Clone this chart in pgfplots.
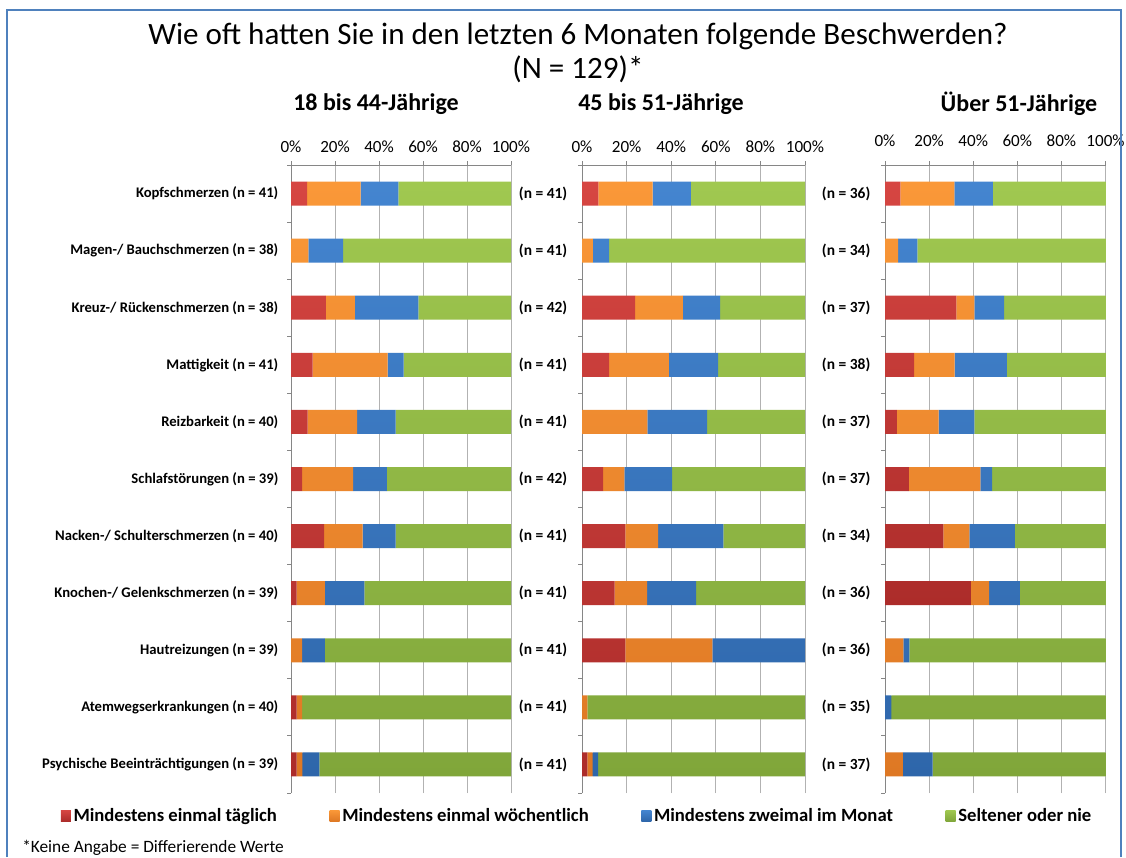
\documentclass[border=0pt]{standalone}
\usepackage{pgfplots}
\pgfplotsset{compat=1.18}
\usepackage{pgfplotstable}
\usepackage{fontspec}
\setmainfont{Carlito}

\definecolor{redTop}{RGB}{214,70,66}
\definecolor{redBot}{RGB}{172,44,42}
\definecolor{orangeTop}{RGB}{250,152,56}
\definecolor{orangeBot}{RGB}{222,120,36}
\definecolor{blueTop}{RGB}{68,133,208}
\definecolor{blueBot}{RGB}{46,102,170}
\definecolor{greenTop}{RGB}{160,200,80}
\definecolor{greenBot}{RGB}{128,166,58}
\definecolor{axgray}{RGB}{134,134,134}
\definecolor{gridgray}{RGB}{178,178,178}
\definecolor{frameblue}{RGB}{79,129,189}

% y: 10 = Kopfschmerzen ... 0 = Psychische Beeintraechtigungen
% a = taeglich, b = woechentlich, c = zweimal im Monat, d = seltener/nie (in %)
\pgfplotstableread{
y a b c d
10 7.3 24.4 17.1 51.2
9 0 7.9 15.8 76.3
8 15.8 13.2 28.9 42.1
7 9.8 34.1 7.3 48.8
6 7.5 22.5 17.5 52.5
5 5.1 23.1 15.4 56.4
4 15.0 17.5 15.0 52.5
3 2.6 12.8 17.9 66.7
2 0 5.1 10.3 84.6
1 2.5 2.5 0 95.0
0 2.6 2.6 7.7 87.1
}\tabA
\pgfplotstableread{
y a b c d
10 7.3 24.4 17.1 51.2
9 0 4.9 7.3 87.8
8 23.8 21.4 16.7 38.1
7 12.2 26.8 22.0 39.0
6 0 29.3 26.8 43.9
5 9.5 9.5 21.4 59.6
4 19.5 14.6 29.3 36.6
3 14.6 14.6 22.0 48.8
2 19.5 39.0 41.5 0
1 0 2.4 0 97.6
0 2.4 2.4 2.4 92.8
}\tabB
\pgfplotstableread{
y a b c d
10 7.0 24.5 17.4 51.1
9 0 5.9 8.8 85.3
8 32.4 8.1 13.5 46.0
7 13.2 18.4 23.7 44.7
6 5.4 18.9 16.2 59.5
5 10.8 32.4 5.4 51.4
4 26.5 11.8 20.6 41.1
3 38.9 8.3 13.9 38.9
2 0 8.3 2.8 88.9
1 0 0 2.9 97.1
0 0 8.1 13.5 78.4
}\tabC

\pgfplotsset{
  panel/.style={
    xbar stacked, bar width=18pt,
    scale only axis, height=471pt,
    anchor=south west,
    xmin=0, xmax=100, ymin=-0.5, ymax=10.5,
    axis x line*=top, axis y line*=left,
    axis line style={draw=axgray, line width=0.75pt},
    xtick={0,20,...,100},
    xticklabel={\pgfmathprintnumber{\tick}\%},
    /pgf/number format/assume math mode=true,
    xmajorgrids, grid style={gridgray, line width=0.75pt},
    ytick={0,...,10},
    minor ytick={-0.5,0.5,...,10.5},
    tick align=outside,
    major tick length=3pt, minor tick length=3pt,
    major y tick style={draw=none},
    minor y tick style={axgray, line width=0.75pt},
    x tick style={axgray, line width=0.75pt},
    xticklabel style={font=\fontsize{12.8}{14}\selectfont, text=black},
    yticklabel style={font=\fontsize{11}{13}\selectfont\bfseries, text=black},
    xticklabel shift=3pt,
    legend image code/.code={\path[##1] (0pt,-4pt) rectangle (7.5pt,4.25pt);},
  },
  sRed/.style={draw=none, top color=redTop, bottom color=redBot},
  sOrange/.style={draw=none, top color=orangeTop, bottom color=orangeBot},
  sBlue/.style={draw=none, top color=blueTop, bottom color=blueBot},
  sGreen/.style={draw=none, top color=greenTop, bottom color=greenBot},
}

\begin{document}
\begin{tikzpicture}
\useasboundingbox (0pt,0pt) rectangle (844.5pt,-642.75pt);
\fill[white] (0pt,0pt) rectangle (844.5pt,-642.75pt);

% panel 1
\begin{axis}[panel, at={(218.25pt,-594.75pt)}, width=165pt,
  yticklabel shift=3pt,
  yticklabels={Psychische Beeinträchtigungen (n = 39),
    Atemwegserkrankungen (n = 40), Hautreizungen (n = 39),
    Knochen-/ Gelenkschmerzen (n = 39), Nacken-/ Schulterschmerzen (n = 40),
    Schlafstörungen (n = 39), Reizbarkeit (n = 40), Mattigkeit (n = 41),
    Kreuz-/ Rückenschmerzen (n = 38), Magen-/ Bauchschmerzen (n = 38),
    Kopfschmerzen (n = 41)},
  legend columns=4,
  legend style={draw=none, fill=none, at={(axis description cs:1.302,-0.0365)},
    anchor=center, font=\fontsize{14}{16}\selectfont\bfseries,
    /tikz/every even column/.append style={column sep=37.5pt}},
]
\addplot[sRed] table[x=a, y=y] {\tabA};
\addplot[sOrange] table[x=b, y=y] {\tabA};
\addplot[sBlue] table[x=c, y=y] {\tabA};
\addplot[sGreen] table[x=d, y=y] {\tabA};
\legend{Mindestens einmal täglich, Mindestens einmal wöchentlich,
  Mindestens zweimal im Monat, Seltener oder nie}
\end{axis}

% panel 2
\begin{axis}[panel, at={(436.5pt,-594.75pt)}, width=167.25pt,
  yticklabel shift=4.5pt,
  yticklabel style={font=\fontsize{11.6}{13}\selectfont\bfseries},
  yticklabels={(n = 41), (n = 41), (n = 41), (n = 41), (n = 41), (n = 42),
    (n = 41), (n = 41), (n = 42), (n = 41), (n = 41)},
]
\addplot[sRed] table[x=a, y=y] {\tabB};
\addplot[sOrange] table[x=b, y=y] {\tabB};
\addplot[sBlue] table[x=c, y=y] {\tabB};
\addplot[sGreen] table[x=d, y=y] {\tabB};
\end{axis}

% panel 3
\begin{axis}[panel, at={(663.75pt,-594.75pt)}, width=165.4pt,
  yticklabel shift=4.5pt,
  yticklabel style={font=\fontsize{11.6}{13}\selectfont\bfseries},
  yticklabels={(n = 37), (n = 35), (n = 36), (n = 36), (n = 34), (n = 37),
    (n = 37), (n = 38), (n = 37), (n = 34), (n = 36)},
  xticklabel shift=7.5pt,
]
\addplot[sRed] table[x=a, y=y] {\tabC};
\addplot[sOrange] table[x=b, y=y] {\tabC};
\addplot[sBlue] table[x=c, y=y] {\tabC};
\addplot[sGreen] table[x=d, y=y] {\tabC};
\end{axis}

% titles
\node[font=\fontsize{23.3}{26}\selectfont] at (433.5pt,-27pt)
  {Wie oft hatten Sie in den letzten 6 Monaten folgende Beschwerden?};
\node[font=\fontsize{23.3}{26}\selectfont] at (433.5pt,-52pt) {(N = 129)*};
\node[font=\fontsize{18}{20}\selectfont\bfseries] at (282pt,-78pt) {18 bis 44-Jährige};
\node[font=\fontsize{18}{20}\selectfont\bfseries] at (495.75pt,-78pt) {45 bis 51-Jährige};
\node[font=\fontsize{18}{20}\selectfont\bfseries] at (764.25pt,-78pt) {Über 51-Jährige};
\node[font=\fontsize{13}{15}\selectfont, anchor=west, inner sep=0pt] at (16.5pt,-635.5pt)
  {*Keine Angabe = Differierende Werte};

% chart frame
\draw[frameblue, line width=1.1pt] (5.25pt,-642.75pt) -- (5.25pt,-7.5pt)
  -- (840.75pt,-7.5pt) -- (840.75pt,-642.75pt);
\end{tikzpicture}
\end{document}
